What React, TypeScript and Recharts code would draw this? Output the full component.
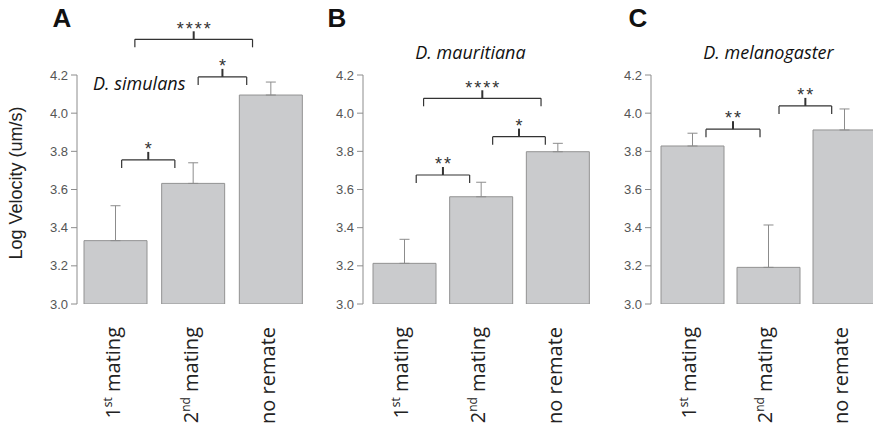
import { BarChart, Bar, XAxis, YAxis, ErrorBar, ReferenceLine, ReferenceDot } from 'recharts'

const categories = ['1st mating', '2nd mating', 'no remate']
const yTicks = [3.0, 3.2, 3.4, 3.6, 3.8, 4.0, 4.2]

const simulansMeans = [3.332, 3.632, 4.095]
const simulansErr = [0.183, 0.108, 0.068]
const mauritianaMeans = [3.213, 3.562, 3.798]
const mauritianaErr = [0.126, 0.076, 0.044]
const melanogasterMeans = [3.828, 3.192, 3.912]
const melanogasterErr = [0.067, 0.222, 0.11]

// significance brackets: from/to in bar-slot units (0..3), y in log velocity
const simulansBrackets = [
    { from: 0.575, to: 1.26, y: 3.755, stars: '*' },
    { from: 1.56, to: 2.185, y: 4.19, stars: '*' },
    { from: 0.745, to: 2.26, y: 4.387, stars: '****' },
]
const mauritianaBrackets = [
    { from: 0.655, to: 1.352, y: 3.676, stars: '**' },
    { from: 1.652, to: 2.339, y: 3.877, stars: '*' },
    { from: 0.751, to: 2.283, y: 4.078, stars: '****' },
]
const melanogasterBrackets = [
    { from: 0.684, to: 1.395, y: 3.916, stars: '**' },
    { from: 1.645, to: 2.338, y: 4.038, stars: '**' },
]

const TIP = 0.042       // bracket tip / centre tick length, in axis units
const STAR_RISE = 0.079 // bracket line -> centre of the asterisks

const INK = '#333'
const SANS = "'Liberation Sans', Arial, sans-serif"
const HUMANIST = "'Open Sans', sans-serif"

function MatingTick({ x, y, payload }: any) {
    const m = /^(\d+)(st|nd|rd|th) (.+)$/.exec(payload.value)
    return (
        <g transform={`translate(${x},${y + 23}) rotate(-90)`}>
            <text textAnchor="end" dy="0.2em" fontSize={20} fill="#222" fontFamily={HUMANIST}>
                {m ? (
                    <>
                        <tspan>{m[1]}</tspan>
                        <tspan fontSize={12} dy={-8}>{m[2]}</tspan>
                        <tspan dy={8}>{'\u00a0' + m[3]}</tspan>
                    </>
                ) : payload.value}
            </text>
        </g>
    )
}

function StarLabel({ viewBox, text }: any) {
    const cx = viewBox.x + viewBox.width / 2
    const cy = viewBox.y + viewBox.height / 2
    return (
        <text x={cx + 1} y={cy} dy="0.575em" textAnchor="middle" fontSize={18} letterSpacing={2} fill={INK} fontFamily={SANS}>
            {text}
        </text>
    )
}

function Panel({ left, width, pad, means, errs, brackets }: any) {
    // slot = centre of each bar in slot units, drives the hidden numeric axis
    const data = categories.map((name, i) => ({ name, slot: i + 0.5, value: means[i], err: [0, errs[i]] }))

    return (
        <div style={{ position: 'absolute', left, top: 0 }}>
            <BarChart width={width} height={432} data={data} margin={{ top: 75, right: 0, bottom: 0, left: 0 }}>
                <XAxis
                    dataKey="name"
                    height={128}
                    axisLine={false}
                    tickLine={false}
                    tickSize={0}
                    tickMargin={0}
                    interval={0}
                    padding={{ left: pad, right: 0 }}
                    tick={<MatingTick />}
                />
                <XAxis xAxisId="slot" dataKey="slot" type="number" domain={[0, 3]} allowDataOverflow hide padding={{ left: pad, right: 0 }} />
                <YAxis
                    width={77}
                    domain={[3, 4.2]}
                    allowDataOverflow
                    ticks={yTicks}
                    tickFormatter={(v) => v.toFixed(1)}
                    tickSize={6}
                    tickMargin={3}
                    stroke="#8c8c8c"
                    tick={{ fill: '#555', fontSize: 13, fontFamily: SANS }}
                />
                <Bar dataKey="value" barSize={63} fill="#cacbcd" stroke="#929292" strokeWidth={1} isAnimationActive={false}>
                    <ErrorBar dataKey="err" width={5} stroke="#8c8c8c" strokeWidth={1} direction="y" />
                </Bar>
                {brackets.map((b: any, i: number) => {
                    const mid = (b.from + b.to) / 2
                    return [
                        <ReferenceLine key={`h${i}`} xAxisId="slot" ifOverflow="visible" stroke={INK} strokeWidth={1.2}
                            segment={[{ x: b.from, y: b.y }, { x: b.to, y: b.y }]} />,
                        <ReferenceLine key={`l${i}`} xAxisId="slot" ifOverflow="visible" stroke={INK} strokeWidth={1.2}
                            segment={[{ x: b.from, y: b.y }, { x: b.from, y: b.y - TIP }]} />,
                        <ReferenceLine key={`r${i}`} xAxisId="slot" ifOverflow="visible" stroke={INK} strokeWidth={1.2}
                            segment={[{ x: b.to, y: b.y }, { x: b.to, y: b.y - TIP }]} />,
                        <ReferenceLine key={`c${i}`} xAxisId="slot" ifOverflow="visible" stroke={INK} strokeWidth={2}
                            segment={[{ x: mid, y: b.y }, { x: mid, y: b.y + TIP }]} />,
                        <ReferenceDot key={`s${i}`} xAxisId="slot" ifOverflow="visible" x={mid} y={b.y + STAR_RISE}
                            r={1} fill="none" stroke="none" label={<StarLabel text={b.stars} />} />,
                    ]
                })}
            </BarChart>
        </div>
    )
}

export default function App() {
    return (
        <div style={{ position: 'absolute', left: 0, top: 0, width: 873, height: 432, overflow: 'hidden', background: '#fff' }}>
            <Panel left={0} width={310} pad={0} means={simulansMeans} errs={simulansErr} brackets={simulansBrackets} />
            <Panel left={285.7} width={310} pad={3} means={mauritianaMeans} errs={mauritianaErr} brackets={mauritianaBrackets} />
            <Panel left={574} width={308} pad={3} means={melanogasterMeans} errs={melanogasterErr} brackets={melanogasterBrackets} />
            <svg width={873} height={432} style={{ position: 'absolute', left: 0, top: 0, pointerEvents: 'none' }}>
                <g fontFamily={SANS} fontWeight="bold" fontSize={26} fill="#111">
                    <text x={52.5} y={26.7}>A</text>
                    <text x={327.5} y={26.7}>B</text>
                    <text x={628.5} y={26.7}>C</text>
                </g>
                <g fontFamily={HUMANIST} fontStyle="italic" fontSize={18} fill="#111">
                    <text x={93} y={90}>D. simulans</text>
                    <text x={470.5} y={59} textAnchor="middle">D. mauritiana</text>
                    <text x={768.5} y={59} textAnchor="middle">D. melanogaster</text>
                </g>
                <text transform="translate(22,183) rotate(-90)" textAnchor="middle" fontFamily={SANS} fontSize={18} fill="#222">
                    Log Velocity (um/s)
                </text>
            </svg>
        </div>
    )
}
